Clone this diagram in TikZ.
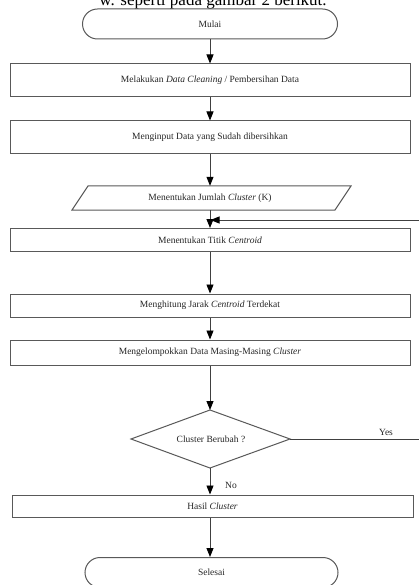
\documentclass[tikz,border=0pt]{standalone}
\usepackage{fontspec}
\setmainfont{Liberation Serif}
\usetikzlibrary{arrows.meta}
\begin{document}
\begin{tikzpicture}[x=1pt,y=-1pt,
  line/.style={draw=black!65, line width=1pt},
  txt/.style={font=\fontsize{9.5}{11}\selectfont, text=black!85, inner sep=0pt},
  box/.style={line, txt, rectangle, minimum width=400pt},
  term/.style={line, txt, rectangle, rounded corners=15pt, minimum height=30pt},
  arr/.style={draw=black!75, line width=0.9pt, -{Triangle[width=7pt,length=9pt,color=black]}}]
\clip (0,0) rectangle (419,585);
\fill[white] (0,0) rectangle (419,585);
% clipped caption line above the chart
\node[font=\fontsize{17}{20}\selectfont, anchor=base, inner sep=0pt] (cap) at (213,6) {w. seperti pada gambar 2 berikut.};
% nodes
\node[term, minimum width=255pt] (mulai) at (210,24) {Mulai};
\node[box, minimum height=33pt] (b1) at (210,80.5) {Melakukan \textit{Data Cleaning} / Pembersihan Data};
\node[box, minimum height=33pt] (b2) at (210,137.5) {Menginput Data yang Sudah dibersihkan};
\draw[line] (72,210) -- (88,186) -- (351,186) -- (335,210) -- cycle;
\node[txt, minimum width=262pt, minimum height=24pt] (par) at (210,198) {Menentukan Jumlah \textit{Cluster} (K)};
\node[box, minimum height=23pt] (b3) at (210,240) {Menentukan Titik \textit{Centroid}};
\node[box, minimum height=23pt] (b4) at (210,305.5) {Menghitung Jarak \textit{Centroid} Terdekat};
\node[box, minimum height=25pt] (b5) at (210,352.5) {Mengelompokkan Data Masing-Masing \textit{Cluster}};
\coordinate (dtop) at (210,410);
\coordinate (dright) at (290,439);
\coordinate (dbot) at (210,468);
\coordinate (dleft) at (131,439);
\draw[line] (dtop) -- (dright) -- (dbot) -- (dleft) -- cycle;
\node[txt] (dia) at (211,439) {Cluster Berubah ?};
\node[box, minimum width=401pt, minimum height=22pt] (b6) at (212.5,506) {Hasil \textit{Cluster}};
\node[term, minimum width=253pt] (selesai) at (211.5,572.5) {Selesai};
\node[txt] (yes) at (386,432) {Yes};
\node[txt] (no) at (231,485) {No};
\coordinate (rt) at (430,439);
\coordinate (rt2) at (430,220);
\coordinate (join) at (210.5,220);
% connectors
\draw[arr] (mulai.south) -- (b1.north);
\draw[arr] (b1.south) -- (b2.north);
\draw[arr] (b2.south) -- (par.north);
\draw[arr] (par.south) -- (b3.north);
\draw[arr] (b3.south) -- (b4.north);
\draw[arr] (b4.south) -- (b5.north);
\draw[arr] (b5.south) -- (dtop);
\draw[arr] (dbot) -- (dbot |- b6.north);
\draw[arr] (b6.south -| dbot) -- (selesai.north -| dbot);
\draw[arr] (dright) -- (rt) -- (rt2) -- (join);
\end{tikzpicture}
\end{document}
